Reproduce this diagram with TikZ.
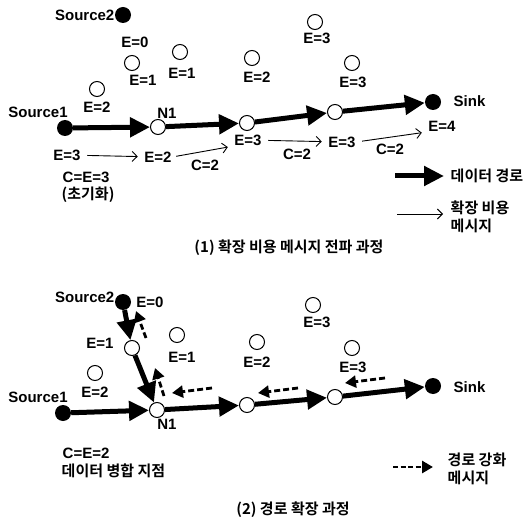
\documentclass[tikz,border=0pt]{standalone}
\usepackage{fontspec}
\setmainfont{Liberation Sans}
\newfontfamily\kr{Noto Sans CJK KR}[BoldFont={Noto Sans CJK KR Bold}]
\usetikzlibrary{arrows.meta}
\begin{document}
\begin{tikzpicture}[x=1pt,y=-1pt,
  lbl/.style={font=\fontsize{15}{16}\selectfont\bfseries, inner sep=0.5pt},
  krl/.style={font=\kr\fontsize{15}{18}\selectfont\bfseries, inner sep=0.5pt, align=left},
  onode/.style={circle,draw,line width=1pt,fill=white,minimum size=15pt,inner sep=0pt},
  fnode/.style={circle,fill=black,minimum size=16pt,inner sep=0pt},
  datap/.style={line width=5pt,-{Triangle[length=20pt,width=19pt]}},
  costmsg/.style={line width=0.9pt,-{Straight Barb[length=5pt,width=10pt]}},
  reinf/.style={line width=2.8pt,dash pattern=on 6pt off 3pt,-{Triangle[length=11pt,width=12pt]}}]
\useasboundingbox (0,0) rectangle (532,529);

% ---------- (1) ----------
\node[fnode] (s2a) at (123,15) {};
\node[lbl,anchor=east] (s2al) at (115,15) {Source2};
\node[lbl] (e0a) at (135,42) {E=0};
\node[onode] (c1a) at (132,63) {};
\node[lbl] (c1al) at (143,80) {E=1};
\node[onode] (c2a) at (180,52) {};
\node[lbl] (c2al) at (182,73) {E=1};
\node[onode] (c3a) at (252,58) {};
\node[lbl] (c3al) at (257,77) {E=2};
\node[onode] (c4a) at (97,89) {};
\node[lbl] (c4al) at (97,107) {E=2};
\node[onode] (c5a) at (315,22) {};
\node[lbl] (c5al) at (317,38) {E=3};
\node[onode] (c6a) at (352,63) {};
\node[lbl] (c6al) at (353,82) {E=3};

\node[fnode] (s1a) at (65,128) {};
\node[lbl] (s1al) at (38,112) {Source1};
\node[onode] (n1a) at (158,127) {};
\node[lbl] (n1al) at (167,113) {N1};
\node[onode] (p2a) at (247,123) {};
\node[onode] (p3a) at (335,112) {};
\node[fnode] (ska) at (433,102) {};
\node[lbl,anchor=west] (skal) at (453,101) {Sink};

\draw[datap] (s1a) -- (n1a);
\draw[datap] (n1a) -- (p2a);
\draw[datap] (p2a) -- (p3a);
\draw[datap] (p3a) -- (ska);

\node[lbl] (m1) at (67,155) {E=3};
\node[lbl] (m2) at (158,157) {E=2};
\node[lbl] (m3) at (248,140) {E=3};
\node[lbl] (m4) at (342,142) {E=3};
\node[lbl] (m5) at (442,126) {E=4};
\draw[costmsg,shorten <=6pt,shorten >=6pt] (m1) -- (m2);
\draw[costmsg,shorten <=4pt,shorten >=6pt] (m2.east) -- (m3.south west);
\draw[costmsg,shorten <=6pt,shorten >=6pt] (m3) -- (m4);
\draw[costmsg,shorten <=6pt,shorten >=6pt] (m4.east) -- (m5.south west);
\node[lbl] (cc1) at (205,165) {C=2};
\node[lbl] (cc2) at (297,154) {C=2};
\node[lbl] (cc3) at (390,149) {C=2};
\node[lbl,anchor=west] (ce3) at (62,177) {C=E=3};
\node[krl,anchor=west] (init) at (61,195) {(초기화)};

\coordinate (lg1) at (395,176);
\node[krl,anchor=west] (lg1t) at (450,176) {데이터 경로};
\draw[datap,shorten >=6pt] (lg1) -- (lg1t);
\coordinate (lg2) at (397,214);
\node[krl,anchor=west] (lg2t) at (450,217) {확장 비용\\메시지};
\draw[costmsg,shorten >=7pt] (lg2) -- (lg2t.west |- lg2);
\node[krl] (t1) at (289,248) {(1) 확장 비용 메시지 전파 과정};

% ---------- (2) ----------
\node[fnode] (s2b) at (123,302) {};
\node[lbl,anchor=east] (s2bl) at (115,297) {Source2};
\node[lbl] (e0b) at (150,302) {E=0};
\node[onode] (c1b) at (132,348) {};
\node[lbl] (c1bl) at (100,343) {E=1};
\node[onode] (c2b) at (177,335) {};
\node[lbl] (c2bl) at (182,357) {E=1};
\node[onode] (c3b) at (257,342) {};
\node[lbl] (c3bl) at (257,362) {E=2};
\node[onode] (c4b) at (95,373) {};
\node[lbl] (c4bl) at (95,392) {E=2};
\node[onode] (c5b) at (313,305) {};
\node[lbl] (c5bl) at (317,322) {E=3};
\node[onode] (c6b) at (352,348) {};
\node[lbl] (c6bl) at (353,367) {E=3};

\node[fnode] (s1b) at (63,413) {};
\node[lbl] (s1bl) at (38,397) {Source1};
\node[onode] (n1b) at (157,410) {};
\node[lbl] (n1bl) at (167,424) {N1};
\node[onode] (p2b) at (247,405) {};
\node[onode] (p3b) at (335,397) {};
\node[fnode] (skb) at (433,386) {};
\node[lbl,anchor=west] (skbl) at (453,387) {Sink};

\draw[datap] (s2b) -- (c1b);
\draw[datap] (c1b) -- (n1b);
\draw[datap] (s1b) -- (n1b);
\draw[datap] (n1b) -- (p2b);
\draw[datap] (p2b) -- (p3b);
\draw[datap] (p3b) -- (skb);

\coordinate (r1s) at (385,378); \coordinate (r1e) at (345,383);
\coordinate (r2s) at (298,388); \coordinate (r2e) at (258,393);
\coordinate (r3s) at (212,388); \coordinate (r3e) at (172,393);
\coordinate (r4s) at (164,396); \coordinate (r4e) at (155,368);
\coordinate (r5s) at (146,338); \coordinate (r5e) at (136,311);
\draw[reinf] (r1s) -- (r1e);
\draw[reinf] (r2s) -- (r2e);
\draw[reinf] (r3s) -- (r3e);
\draw[reinf] (r4s) -- (r4e);
\draw[reinf] (r5s) -- (r5e);

\node[lbl,anchor=west] (ce2) at (62,453) {C=E=2};
\node[krl,anchor=west] (merge) at (61,471) {데이터 병합 지점};

\coordinate (lg3) at (393,467);
\node[krl,anchor=west] (lg3t) at (447,469) {경로 강화\\메시지};
\draw[reinf,dash pattern=on 5pt off 2.5pt,shorten >=14pt] (lg3) -- (lg3t.west |- lg3);
\node[krl] (t2) at (293,510) {(2) 경로 확장 과정};
\end{tikzpicture}
\end{document}
